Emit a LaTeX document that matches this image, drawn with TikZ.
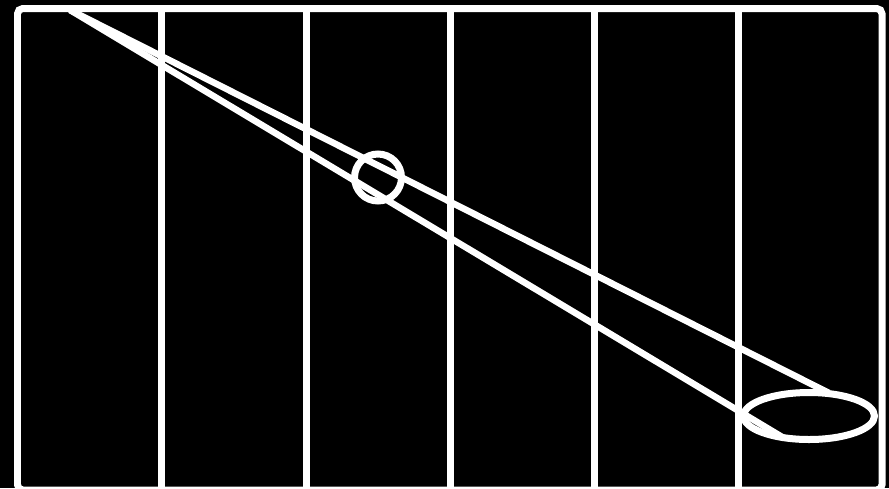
\documentclass[tikz,border=0pt]{standalone}
\usepackage{tikz}
\usetikzlibrary{positioning}
\begin{document}
\begin{tikzpicture}[
  x=0.02cm, y=-0.02cm,
  frame/.style={draw=white, line width=0.14cm},
  beam/.style={draw=white, line width=0.13cm},
  ring/.style={draw=white, line width=0.14cm, circle, inner sep=0pt, minimum size=0.94cm}
]
\fill[black] (0,0) rectangle (889,488);
\useasboundingbox (0,0) rectangle (889,488);

\draw[frame, rounded corners=3] (17.5,8.5) rectangle (882,490);
\foreach \x in {161.5,306,450,594.5,738}
  \draw[frame] (\x,8.5) -- (\x,490);

\coordinate (apex) at (70,10);
\node[ring] (lens) at (378,177.5) {};
\coordinate (spot) at (809,416);
\draw[frame] (spot) ellipse [x radius=1.31cm, y radius=0.47cm];
\coordinate (top) at (829,393);
\coordinate (bottom) at (783,437.5);

\draw[beam] (apex) -- (top);
\draw[beam] (apex) -- (bottom);
\end{tikzpicture}
\end{document}
